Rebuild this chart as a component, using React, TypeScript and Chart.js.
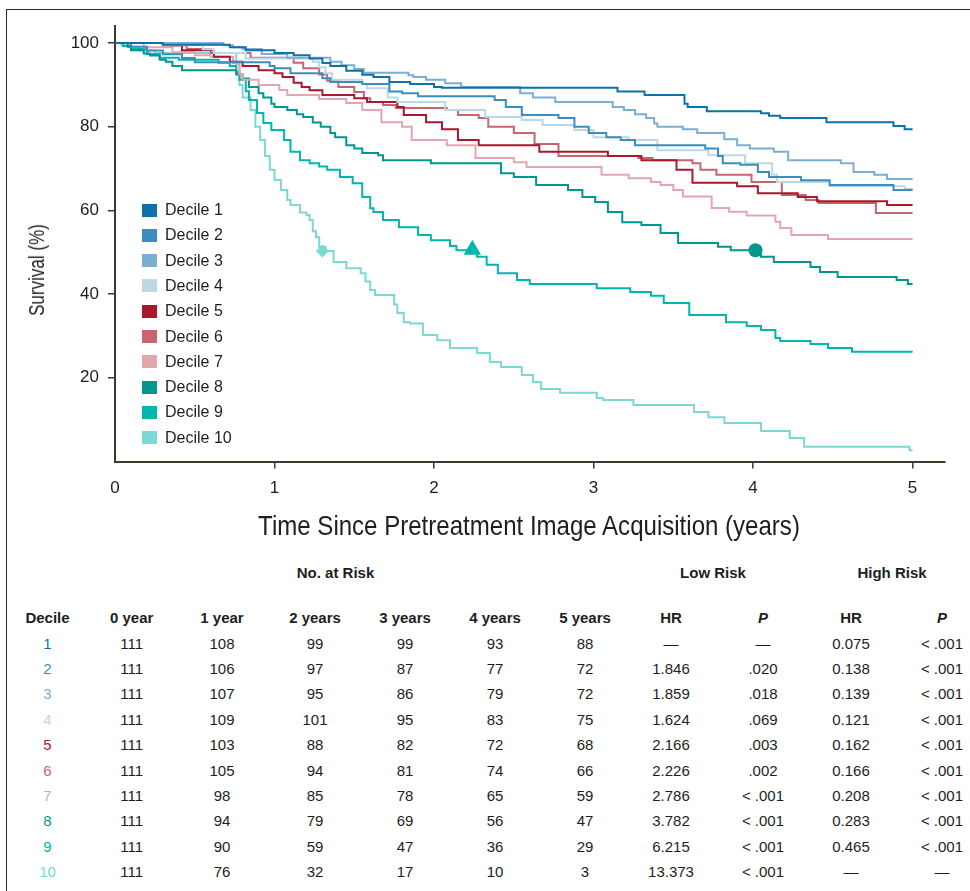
import React, { useEffect, useLayoutEffect, useRef, useState } from 'react';
import { Chart, registerables } from 'chart.js';

Chart.register(...registerables);

const FONT = "'Liberation Sans', Arial, Helvetica, sans-serif";
const TEXT = '#1e1e1e';
const AXIS = '#3b3b2f';

// ---------- data ----------
const decileLabels = ['Decile 1', 'Decile 2', 'Decile 3', 'Decile 4', 'Decile 5', 'Decile 6', 'Decile 7', 'Decile 8', 'Decile 9', 'Decile 10'];
const decileColors = ['#0e72a8', '#3b8dbf', '#7aafd2', '#bdd7e7', '#a8192f', '#c9636f', '#e4a6ae', '#00978e', '#00b7af', '#7dd7d2'];

// [time (years), survival (%) after the step]
const decile1 = [[0, 100], [0.3, 99.6], [0.72, 99.0], [0.82, 98.3], [1.0, 97.6], [1.12, 97.1], [1.22, 96.3], [1.3, 95.2], [1.35, 94.5], [1.45, 93.4], [1.55, 92.4], [1.62, 91.9], [1.72, 90.7], [1.85, 90.2], [2.0, 89.5], [2.05, 89.3], [3.15, 88.4], [3.32, 87.6], [3.57, 85.5], [3.59, 84.7], [3.71, 83.7], [4.05, 83.2], [4.1, 82.6], [4.17, 82.1], [4.46, 81.1], [4.88, 80.2], [4.95, 79.4], [5.0, 79.4]];
const decile2 = [[0, 100], [0.1, 99.1], [0.2, 98.2], [0.3, 97.3], [0.42, 96.4], [0.5, 95.4], [0.97, 94.5], [1.0, 94.0], [1.1, 92.8], [1.3, 91.6], [1.35, 90.7], [1.55, 90.2], [1.72, 88.4], [1.8, 88.0], [1.9, 87.3], [2.38, 86.4], [2.45, 84.7], [2.55, 82.8], [2.78, 82.1], [2.88, 80.0], [2.97, 78.5], [3.08, 77.5], [3.17, 76.8], [3.26, 75.6], [3.7, 74.8], [3.78, 73.0], [3.81, 71.3], [3.92, 70.9], [4.03, 69.2], [4.1, 68.0], [4.3, 67.2], [4.48, 66.1], [4.88, 64.9], [5.0, 64.9]];
const decile3 = [[0, 100], [0.68, 99.5], [0.74, 99.0], [0.8, 98.6], [0.92, 97.4], [1.08, 96.5], [1.35, 95.5], [1.42, 94.7], [1.5, 93.8], [1.56, 92.9], [1.84, 92.3], [1.87, 91.9], [1.95, 91.2], [2.07, 90.4], [2.17, 89.5], [2.54, 88.0], [2.62, 87.0], [2.76, 85.9], [3.12, 84.7], [3.19, 84.0], [3.26, 83.0], [3.33, 82.1], [3.38, 80.8], [3.4, 80.0], [3.56, 79.4], [3.65, 78.5], [3.82, 77.0], [3.9, 75.6], [3.98, 74.8], [4.13, 74.0], [4.22, 72.0], [4.55, 71.3], [4.63, 69.2], [4.76, 68.5], [4.84, 67.5], [5.0, 67.5]];
const decile4 = [[0, 100], [0.3, 99.5], [0.55, 98.5], [0.62, 97.6], [0.82, 96.3], [1.24, 95.5], [1.28, 94.2], [1.32, 92.8], [1.36, 91.2], [1.55, 90.2], [1.58, 89.2], [1.71, 87.0], [1.77, 85.9], [2.07, 84.0], [2.32, 82.3], [2.55, 81.6], [2.68, 80.4], [2.88, 79.2], [3.0, 77.5], [3.22, 76.8], [3.4, 74.4], [3.72, 73.2], [3.95, 71.3], [4.12, 68.5], [4.15, 66.8], [4.48, 65.8], [4.95, 65.2], [5.0, 65.2]];
const decile5 = [[0, 100], [0.3, 99.5], [0.42, 98.3], [0.62, 96.7], [0.72, 95.5], [0.8, 94.5], [0.9, 93.5], [1.0, 92.8], [1.05, 91.9], [1.12, 90.5], [1.17, 89.5], [1.22, 88.7], [1.3, 87.6], [1.5, 86.8], [1.58, 85.9], [1.77, 84.7], [1.81, 82.8], [1.95, 81.1], [2.05, 79.4], [2.15, 76.8], [2.28, 75.6], [2.66, 74.0], [3.09, 73.0], [3.3, 72.0], [3.52, 69.7], [3.62, 66.6], [3.9, 65.8], [4.03, 64.1], [4.28, 63.2], [4.4, 62.2], [4.84, 61.3], [5.0, 61.3]];
const decile6 = [[0, 100], [0.35, 99.4], [0.45, 98.6], [0.6, 97.6], [0.85, 96.5], [1.12, 95.3], [1.18, 94.0], [1.28, 92.5], [1.33, 91.0], [1.4, 89.5], [1.5, 88.3], [1.56, 86.8], [1.6, 85.9], [1.68, 85.2], [1.76, 84.5], [2.08, 84.0], [2.15, 82.8], [2.28, 82.1], [2.34, 80.0], [2.5, 78.5], [2.63, 75.9], [2.78, 73.0], [3.28, 72.5], [3.37, 72.0], [3.62, 71.3], [3.67, 69.7], [3.77, 68.5], [3.99, 66.8], [4.18, 63.7], [4.33, 62.5], [4.41, 61.8], [4.77, 59.4], [5.0, 59.4]];
const decile7 = [[0, 100], [0.18, 99.0], [0.36, 97.8], [0.5, 97.1], [0.6, 96.7], [0.74, 95.2], [0.78, 92.5], [0.8, 91.2], [0.9, 90.0], [1.03, 88.8], [1.08, 87.6], [1.28, 86.6], [1.45, 85.7], [1.55, 84.0], [1.67, 81.1], [1.8, 80.0], [1.86, 76.8], [2.08, 75.6], [2.26, 72.5], [2.5, 71.5], [2.58, 70.4], [3.05, 68.5], [3.22, 67.7], [3.36, 66.8], [3.42, 66.1], [3.5, 64.9], [3.56, 63.3], [3.74, 60.6], [3.85, 59.7], [3.96, 58.8], [4.14, 57.3], [4.17, 55.8], [4.24, 54.1], [4.47, 53.2], [5.0, 53.2]];
const decile8 = [[0, 100], [0.08, 99.1], [0.1, 98.3], [0.18, 97.5], [0.22, 97.0], [0.28, 96.0], [0.32, 95.5], [0.36, 94.5], [0.42, 93.5], [0.76, 92.5], [0.8, 91.5], [0.84, 89.5], [0.9, 88.0], [0.93, 87.0], [0.98, 85.5], [1.0, 84.7], [1.08, 84.0], [1.14, 83.0], [1.18, 82.3], [1.24, 81.0], [1.29, 80.0], [1.35, 78.5], [1.38, 77.5], [1.45, 75.6], [1.5, 74.8], [1.55, 73.7], [1.65, 73.2], [1.68, 72.0], [1.98, 71.3], [2.42, 68.9], [2.5, 68.0], [2.64, 66.1], [2.84, 64.9], [2.93, 63.2], [3.01, 62.0], [3.09, 59.6], [3.18, 57.2], [3.3, 56.5], [3.42, 54.6], [3.53, 52.2], [3.78, 51.3], [3.86, 50.5], [4.05, 48.9], [4.13, 47.7], [4.36, 46.5], [4.42, 45.3], [4.53, 44.1], [4.9, 43.4], [4.97, 42.4], [5.0, 42.4]];
const decile9 = [[0, 100], [0.05, 99.3], [0.1, 98.6], [0.2, 97.4], [0.28, 96.5], [0.4, 96.0], [0.65, 95.3], [0.72, 94.5], [0.76, 93.0], [0.78, 91.2], [0.82, 88.5], [0.84, 86.4], [0.89, 83.3], [0.93, 80.9], [0.98, 79.2], [1.06, 76.8], [1.1, 74.0], [1.16, 72.0], [1.22, 71.3], [1.28, 70.5], [1.33, 69.7], [1.41, 68.0], [1.49, 66.5], [1.55, 63.2], [1.6, 60.5], [1.62, 59.6], [1.68, 57.7], [1.78, 56.0], [1.9, 54.1], [1.98, 52.9], [2.1, 51.5], [2.14, 50.5], [2.27, 48.9], [2.33, 47.0], [2.4, 45.0], [2.52, 43.4], [2.6, 42.4], [3.02, 41.4], [3.23, 40.5], [3.36, 39.6], [3.44, 37.9], [3.6, 35.0], [3.83, 33.3], [3.96, 32.4], [4.05, 31.4], [4.14, 29.5], [4.17, 28.8], [4.36, 28.1], [4.47, 27.1], [4.62, 26.2], [5.0, 26.2]];
const decile10 = [[0, 100], [0.04, 99.5], [0.08, 99.1], [0.15, 98.2], [0.25, 97.6], [0.76, 95.0], [0.78, 90.0], [0.8, 87.0], [0.85, 84.0], [0.88, 80.0], [0.91, 76.8], [0.94, 73.0], [0.97, 69.7], [1.0, 67.3], [1.04, 64.9], [1.08, 62.5], [1.1, 61.3], [1.16, 59.5], [1.2, 58.9], [1.22, 57.7], [1.24, 55.0], [1.26, 53.6], [1.28, 51.3], [1.32, 50.3], [1.37, 47.7], [1.45, 46.2], [1.54, 45.0], [1.57, 43.0], [1.6, 41.0], [1.63, 39.8], [1.75, 37.5], [1.77, 35.5], [1.81, 33.3], [1.85, 33.0], [1.93, 30.2], [2.02, 29.0], [2.1, 27.1], [2.27, 25.9], [2.35, 23.8], [2.42, 22.6], [2.55, 20.7], [2.62, 19.0], [2.67, 17.3], [2.79, 16.4], [3.02, 15.2], [3.06, 14.7], [3.25, 13.5], [3.63, 11.8], [3.72, 10.6], [3.82, 9.2], [4.05, 7.3], [4.23, 5.6], [4.32, 3.5], [4.98, 2.7], [5.0, 2.7]];

const survivalSeries = [decile1, decile2, decile3, decile4, decile5, decile6, decile7, decile8, decile9, decile10];

// markers on curves (decile index 1-based)
const markerDecile = [10, 9, 8];
const markerTime = [1.30, 2.24, 4.015];
const markerSurvival = [50.3, 50.6, 50.5];
const markerShape = ['rectRot', 'triangle', 'circle'];
const markerRadius = [6.5, 10, 7];

const xTickValues = [0, 1, 2, 3, 4, 5];
const yTickValues = [20, 40, 60, 80, 100];

// risk table
const riskHeaders = ['Decile', '0 year', '1 year', '2 years', '3 years', '4 years', '5 years', 'HR', 'P', 'HR', 'P'];
const atRiskByDecile = [
  [111, 108, 99, 99, 93, 88],
  [111, 106, 97, 87, 77, 72],
  [111, 107, 95, 86, 79, 72],
  [111, 109, 101, 95, 83, 75],
  [111, 103, 88, 82, 72, 68],
  [111, 105, 94, 81, 74, 66],
  [111, 98, 85, 78, 65, 59],
  [111, 94, 79, 69, 56, 47],
  [111, 90, 59, 47, 36, 29],
  [111, 76, 32, 17, 10, 3],
];
const lowRiskHR = ['—', '1.846', '1.859', '1.624', '2.166', '2.226', '2.786', '3.782', '6.215', '13.373'];
const lowRiskP = ['—', '.020', '.018', '.069', '.003', '.002', '< .001', '< .001', '< .001', '< .001'];
const highRiskHR = ['0.075', '0.138', '0.139', '0.121', '0.162', '0.166', '0.208', '0.283', '0.465', '—'];
const highRiskP = ['< .001', '< .001', '< .001', '< .001', '< .001', '< .001', '< .001', '< .001', '< .001', '—'];

// ---------- layout constants ----------
const CANVAS_W = 970;
const CANVAS_H = 550;
const PLOT_LEFT = 115;
const PLOT_TOP = 26.3;
const PLOT_RIGHT = 944.5;
const PLOT_BOTTOM = 461.5;

const colCenters = [47.5, 131.7, 222, 315, 405, 495, 585, 671, 763, 851, 942];
const groupHeaderY = 573;
const headerY = 618;
const rowY0 = 643.5;
const rowStep = 25.4;

function FitText(props: { text: string; cx: number; cy: number; size: number; width: number; rotate?: number }) {
  const ref = useRef<HTMLSpanElement>(null);
  const [k, setK] = useState(1);
  useLayoutEffect(() => {
    if (ref.current) {
      const w = ref.current.offsetWidth;
      if (w > 0) setK(props.width / w);
    }
  }, [props.text, props.width, props.size]);
  return (
    <span
      ref={ref}
      style={{
        position: 'absolute',
        left: props.cx,
        top: props.cy,
        whiteSpace: 'nowrap',
        fontSize: props.size,
        lineHeight: 1,
        fontFamily: FONT,
        color: TEXT,
        transformOrigin: 'center center',
        transform: `translate(-50%, -50%) rotate(${props.rotate || 0}deg) scaleX(${k})`,
      }}
    >
      {props.text}
    </span>
  );
}

function Cell(props: { x: number; y: number; children: React.ReactNode; bold?: boolean; italic?: boolean; color?: string }) {
  return (
    <div
      style={{
        position: 'absolute',
        left: props.x - 60,
        top: props.y - 10,
        width: 120,
        height: 20,
        lineHeight: '20px',
        textAlign: 'center',
        fontSize: 15,
        fontFamily: FONT,
        fontWeight: props.bold ? 700 : 400,
        fontStyle: props.italic ? 'italic' : 'normal',
        color: props.color || TEXT,
        whiteSpace: 'nowrap',
      }}
    >
      {props.children}
    </div>
  );
}

export default function App() {
  const canvasRef = useRef<HTMLCanvasElement>(null);

  useEffect(() => {
    if (!canvasRef.current) return;
    const lineSets = survivalSeries.map((s, i) => ({
      type: 'line' as const,
      label: decileLabels[i],
      data: s.map(([x, y]) => ({ x, y })),
      borderColor: decileColors[i],
      backgroundColor: decileColors[i],
      borderWidth: 2,
      pointRadius: 0,
      stepped: true,
      fill: false,
    }));
    const markerSets = markerDecile.map((d, i) => ({
      type: 'scatter' as const,
      label: 'marker ' + d,
      data: [{ x: markerTime[i], y: markerSurvival[i] }],
      pointStyle: markerShape[i],
      pointRadius: markerRadius[i],
      backgroundColor: decileColors[d - 1],
      borderColor: decileColors[d - 1],
      borderWidth: 0,
    }));
    const tickColor = (ctx: any) => (ctx.tick && ctx.tick.value === 0 ? 'rgba(0,0,0,0)' : AXIS);
    const chart = new Chart(canvasRef.current, {
      type: 'line',
      data: { datasets: [...lineSets, ...markerSets] as any },
      options: {
        responsive: false,
        animation: false,
        devicePixelRatio: 1,
        layout: { padding: { left: 0, top: PLOT_TOP, right: CANVAS_W - PLOT_RIGHT, bottom: 0 } },
        plugins: { legend: { display: false }, tooltip: { enabled: false } },
        scales: {
          x: {
            type: 'linear',
            min: 0,
            max: 5.2,
            afterFit: (s: any) => {
              s.height = CANVAS_H - PLOT_BOTTOM;
            },
            afterBuildTicks: (s: any) => {
              s.ticks = xTickValues.map((v) => ({ value: v }));
            },
            ticks: {
              color: TEXT,
              font: { family: FONT, size: 17 },
              padding: 10,
              maxRotation: 0,
              autoSkip: false,
              callback: (v: any) => String(v),
            },
            grid: { drawOnChartArea: false, drawTicks: true, tickLength: 7, color: tickColor, lineWidth: 1.5 },
            border: { display: true, color: AXIS, width: 2 },
          },
          y: {
            type: 'linear',
            min: 0,
            max: 104,
            afterFit: (s: any) => {
              s.width = PLOT_LEFT;
            },
            afterBuildTicks: (s: any) => {
              s.ticks = yTickValues.map((v) => ({ value: v }));
            },
            ticks: {
              color: TEXT,
              font: { family: FONT, size: 17 },
              padding: 9,
              autoSkip: false,
              callback: (v: any) => String(v),
            },
            grid: { drawOnChartArea: false, drawTicks: true, tickLength: 7, color: tickColor, lineWidth: 1.5 },
            border: { display: true, color: AXIS, width: 2 },
          },
        },
      } as any,
    });
    return () => chart.destroy();
  }, []);

  return (
    <div style={{ position: 'absolute', left: 0, top: 0, width: 970, height: 891, background: '#fff', overflow: 'hidden', fontFamily: FONT, color: TEXT }}>
      <div style={{ position: 'absolute', left: 6, top: 9, width: 980, height: 900, borderLeft: '1.5px solid #2a2a2a', borderTop: '1.5px solid #2a2a2a' }} />
      <canvas ref={canvasRef} width={CANVAS_W} height={CANVAS_H} style={{ position: 'absolute', left: 0, top: 0, width: CANVAS_W, height: CANVAS_H }} />

      {/* axis titles */}
      <FitText text="Survival (%)" cx={37} cy={270} size={22} width={92} rotate={-90} />
      <FitText text="Time Since Pretreatment Image Acquisition (years)" cx={529} cy={526} size={28} width={542} />

      {/* legend */}
      {decileLabels.map((lab, i) => (
        <div key={lab} style={{ position: 'absolute', left: 142, top: 210 + i * 25.3 - 10, height: 20, display: 'flex', alignItems: 'center' }}>
          <div style={{ width: 15, height: 13, background: decileColors[i], marginRight: 8 }} />
          <span style={{ fontSize: 16, lineHeight: '20px', fontFamily: FONT, color: TEXT, whiteSpace: 'nowrap' }}>{lab}</span>
        </div>
      ))}

      {/* risk table */}
      <Cell x={335.5} y={groupHeaderY} bold>No. at Risk</Cell>
      <Cell x={713} y={groupHeaderY} bold>Low Risk</Cell>
      <Cell x={892} y={groupHeaderY} bold>High Risk</Cell>
      {riskHeaders.map((h, c) => (
        <Cell key={'h' + c} x={colCenters[c]} y={headerY} bold italic={h === 'P'}>{h}</Cell>
      ))}
      {atRiskByDecile.map((row, r) => {
        const y = rowY0 + r * rowStep;
        return (
          <React.Fragment key={'r' + r}>
            <Cell x={colCenters[0]} y={y} color={decileColors[r]}>{String(r + 1)}</Cell>
            {row.map((v, c) => (
              <Cell key={'c' + c} x={colCenters[c + 1]} y={y}>{String(v)}</Cell>
            ))}
            <Cell x={colCenters[7]} y={y}>{lowRiskHR[r]}</Cell>
            <Cell x={colCenters[8]} y={y}>{lowRiskP[r]}</Cell>
            <Cell x={colCenters[9]} y={y}>{highRiskHR[r]}</Cell>
            <Cell x={colCenters[10]} y={y}>{highRiskP[r]}</Cell>
          </React.Fragment>
        );
      })}
    </div>
  );
}
